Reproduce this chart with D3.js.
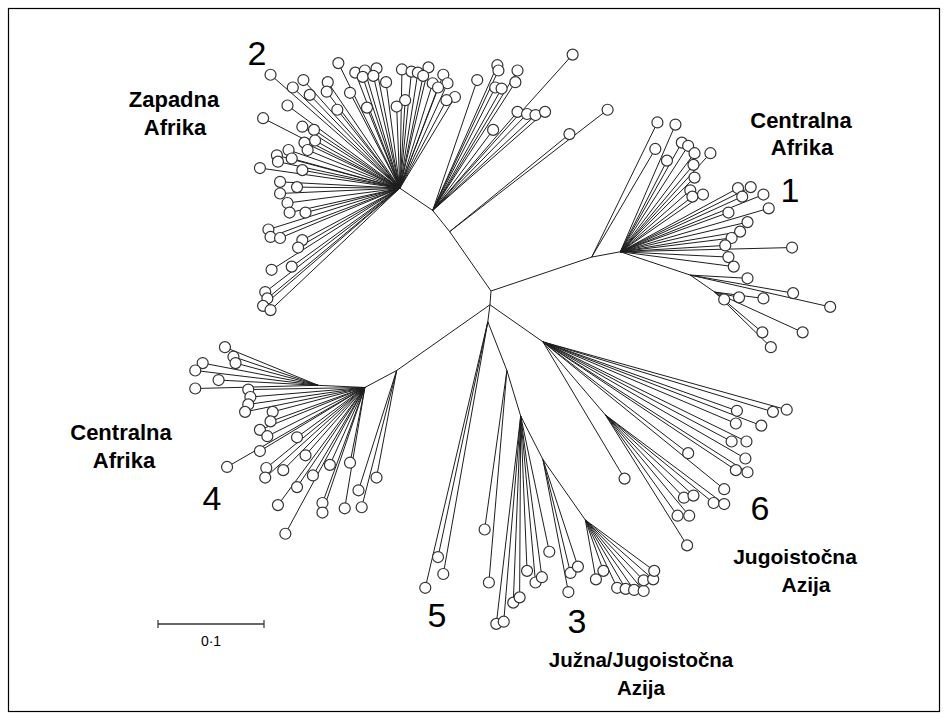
<!DOCTYPE html>
<html lang="en">
  <head>
    <meta charset="utf-8" />
    <title>Filogenetsko stablo</title>
    <script src="https://d3js.org/d3.v7.min.js"></script>
    <style>
      body { margin: 0; background: #fff; }
      text { font-family: "Liberation Sans", Arial, sans-serif; fill: #000; }
    </style>
  </head>
  <body>
    <svg id="tree" width="948" height="720"></svg>
    <script>
    // branch lengths are stored x1000 (0.1 on the scale bar = 100)
    // internal nodes: id, parent, x, y
    var internalNodes = [
      ["R", null, 0, 0],
      ["R2", "R", -1, 13],
      ["n2a", "R", -39, -56],
      ["n2b", "n2a", -55, -76],
      ["H2", "n2b", -86, -97],
      ["n1a", "R", 95, -32],
      ["H1", "n1a", 122, -37],
      ["n1b", "H1", 188, -15],
      ["n1c", "n1b", 211, 1],
      ["n4a", "R2", -89, 75],
      ["H4", "n4a", -119, 91],
      ["n4b", "H4", -163, 89],
      ["n5", "R2", -3, 29],
      ["n3a", "n5", 15, 75],
      ["n3b", "n3a", 28, 118],
      ["n3c", "n3b", 49, 159],
      ["n3d", "n3c", 89, 216],
      ["n6a", "R2", 49, 48],
      ["n6b", "n6a", 108, 117]
    ];

    // leaves: parent, x, y
    var clade2Leaves = [
      ["H2",-208,-204],["H2",-144,-215],["H2",-187,-192],["H2",-177,-199],["H2",-171,-185],
      ["H2",-154,-197],["H2",-155,-188],["H2",-128,-206],["H2",-119,-208],["H2",-108,-210],
      ["H2",-121,-202],["H2",-111,-203],["H2",-99,-197],["H2",-133,-187],["H2",-117,-173],
      ["H2",-145,-171],["H2",-84,-209],["H2",-75,-207],["H2",-69,-206],["H2",-59,-211],
      ["H2",-64,-203],["H2",-45,-204],["H2",-55,-196],["H2",-41,-196],["H2",-50,-192],
      ["H2",-34,-183],["H2",-42,-180],["H2",-81,-180],["H2",-89,-174],["H2",-192,-175],
      ["H2",-215,-163],["H2",-178,-155],["H2",-167,-152],["H2",-166,-142],["H2",-176,-140],
      ["H2",-191,-133],["H2",-202,-128],["H2",-201,-122],["H2",-188,-125],["H2",-218,-116],
      ["H2",-178,-114],["H2",-199,-103],["H2",-183,-98],["H2",-199,-92],["H2",-192,-83],
      ["H2",-190,-74],["H2",-175,-74],["H2",-210,-58],["H2",-208,-51],["H2",-199,-50],
      ["H2",-178,-48],["H2",-182,-41],["H2",-207,-20],["H2",-188,-23],["H2",-213,1],
      ["H2",-211,7],["H2",-215,14],["H2",-208,18],["H2",-173,-133],
      ["n2b",-13,-199],["n2b",6,-213],["n2b",7,-208],["n2b",25,-208],["n2b",23,-197],
      ["n2b",4,-192],["n2b",10,-191],["n2b",77,-223],["n2b",25,-169],["n2b",34,-167],
      ["n2b",42,-166],["n2b",51,-169],["n2b",2,-152],
      ["n2a",110,-171],["n2a",74,-148]
    ];

    var clade1Leaves = [
      ["n1a",157,-159],["n1a",155,-134],
      ["H1",174,-157],["H1",180,-140],["H1",186,-137],["H1",192,-130],["H1",207,-130],
      ["H1",166,-123],["H1",191,-119],["H1",192,-107],["H1",188,-95],["H1",190,-89],
      ["H1",200,-91],["H1",233,-97],["H1",245,-98],["H1",237,-89],["H1",257,-91],
      ["H1",262,-78],["H1",224,-74],["H1",242,-65],["H1",235,-56],["H1",227,-50],
      ["H1",221,-43],["H1",284,-41],["H1",224,-32],["H1",229,-23],
      ["n1b",242,-12],["n1b",285,2],["n1b",320,15],
      ["n1c",220,8],["n1c",234,6],["n1c",257,7],["n1c",294,39],["n1c",256,39],["n1c",264,53]
    ];

    var clade4Leaves = [
      ["n4b",-251,53],["n4b",-243,62],["n4b",-241,68],["n4b",-272,68],["n4b",-279,75],
      ["n4b",-257,84],["n4b",-279,92],
      ["H4",-229,93],["H4",-227,100],["H4",-229,107],["H4",-232,114],["H4",-206,114],
      ["H4",-208,123],["H4",-218,131],["H4",-211,137],["H4",-183,138],["H4",-218,151],
      ["H4",-249,166],["H4",-175,155],["H4",-212,167],["H4",-213,176],["H4",-196,169],
      ["H4",-152,164],["H4",-133,162],["H4",-168,174],["H4",-183,185],["H4",-201,202],
      ["H4",-159,200],["H4",-159,209],["H4",-138,205],["H4",-194,229],
      ["n4a",-108,176],["n4a",-125,188],["n4a",-122,204]
    ];

    var clade5Leaves = [
      ["n5",-50,251],["n5",-45,267],["n5",-62,280]
    ];

    var clade3Leaves = [
      ["n3a",-6,225],["n3a",-2,275],
      ["n3b",5,314],["n3b",12,312],["n3b",21,294],["n3b",27,289],["n3b",34,264],
      ["n3b",42,275],["n3b",48,270],["n3b",55,246],
      ["n3c",75,266],["n3c",82,260],["n3c",73,284],
      ["n3d",99,272],["n3d",106,264],["n3d",119,280],["n3d",127,281],["n3d",135,282],
      ["n3d",144,283],["n3d",144,273],["n3d",153,272],["n3d",154,264]
    ];

    var clade6Leaves = [
      ["n6a",232,113],["n6a",266,114],["n6a",279,112],["n6a",231,125],["n6a",255,127],
      ["n6a",227,142],["n6a",241,142],["n6a",240,158],["n6a",231,169],["n6a",242,171],
      ["n6a",186,153],["n6a",126,177],["n6a",220,187],
      ["n6b",182,195],["n6b",191,193],["n6b",210,200],["n6b",220,201],["n6b",176,212],
      ["n6b",187,212],["n6b",185,240]
    ];

    var cladeNumbers = ["1", "2", "3", "4", "5", "6"];
    var regionNames = [
      ["Centralna", "Afrika"],
      ["Zapadna", "Afrika"],
      ["Južna/Jugoistočna", "Azija"],
      ["Centralna", "Afrika"],
      ["Jugoistočna", "Azija"]
    ];
    var scaleBarValue = 0.1;
    var scaleBarLabel = "0·1";

    var svg = d3.select("#tree");

    // frame
    svg.append("rect")
      .attr("x", 8.5).attr("y", 8.5)
      .attr("width", 931).attr("height", 703)
      .attr("fill", "none").attr("stroke", "#000").attr("stroke-width", 1.2);

    // 100 (=0.1) spans 106 px
    var x = d3.scaleLinear().domain([0, 100]).range([491, 597]);
    var y = d3.scaleLinear().domain([0, 100]).range([291, 397]);

    var pos = {};
    internalNodes.forEach(function(n) { pos[n[0]] = [n[2], n[3]]; });

    var edges = [];
    internalNodes.forEach(function(n) {
      if (n[1]) edges.push({ from: pos[n[1]], to: [n[2], n[3]] });
    });
    var leaves = [].concat(clade2Leaves, clade1Leaves, clade4Leaves,
                           clade5Leaves, clade3Leaves, clade6Leaves);
    leaves.forEach(function(l) {
      edges.push({ from: pos[l[0]], to: [l[1], l[2]] });
    });

    svg.append("g")
      .selectAll("line")
      .data(edges)
      .enter()
      .append("line")
        .attr("x1", function(d) { return x(d.from[0]); })
        .attr("y1", function(d) { return y(d.from[1]); })
        .attr("x2", function(d) { return x(d.to[0]); })
        .attr("y2", function(d) { return y(d.to[1]); })
        .attr("stroke", "#1e1e1e")
        .attr("stroke-width", 1);

    svg.append("g")
      .selectAll("circle")
      .data(leaves)
      .enter()
      .append("circle")
        .attr("cx", function(d) { return x(d[1]); })
        .attr("cy", function(d) { return y(d[2]); })
        .attr("r", 5.5)
        .attr("fill", "#fff")
        .attr("stroke", "#333")
        .attr("stroke-width", 1.2);

    // clade numbers
    var numberPos = [[790, 202], [257, 65], [577, 633], [212, 510], [437, 627], [760, 520]];
    svg.append("g")
      .selectAll("text")
      .data(cladeNumbers)
      .enter()
      .append("text")
        .attr("x", function(d, i) { return numberPos[i][0]; })
        .attr("y", function(d, i) { return numberPos[i][1]; })
        .attr("text-anchor", "middle")
        .attr("font-size", 34)
        .text(function(d) { return d; });

    // region names
    var regionPos = [[[801, 128], [802, 155]], [[174, 107], [175, 135]],
                     [[641, 667], [641, 695]], [[121, 440], [124, 468]],
                     [[795, 564], [806, 592]]];
    var regionSize = [22, 22, 20.5, 22, 21];
    regionNames.forEach(function(r, i) {
      r.forEach(function(line, j) {
        svg.append("text")
          .attr("x", regionPos[i][j][0])
          .attr("y", regionPos[i][j][1])
          .attr("text-anchor", "middle")
          .attr("font-size", regionSize[i])
          .attr("font-weight", "bold")
          .text(line);
      });
    });

    // scale bar
    var sbLen = x(scaleBarValue * 1000) - x(0);
    var sb = svg.append("g").attr("transform", "translate(158,624)");
    sb.append("line").attr("x1", 0).attr("x2", sbLen).attr("y1", 0).attr("y2", 0)
      .attr("stroke", "#333").attr("stroke-width", 1.3);
    [0, sbLen].forEach(function(t) {
      sb.append("line").attr("x1", t).attr("x2", t).attr("y1", -4).attr("y2", 4)
        .attr("stroke", "#333").attr("stroke-width", 1.2);
    });
    sb.append("text")
      .attr("x", sbLen / 2).attr("y", 22)
      .attr("text-anchor", "middle")
      .attr("font-size", 14)
      .text(scaleBarLabel);
    </script>
  </body>
</html>
